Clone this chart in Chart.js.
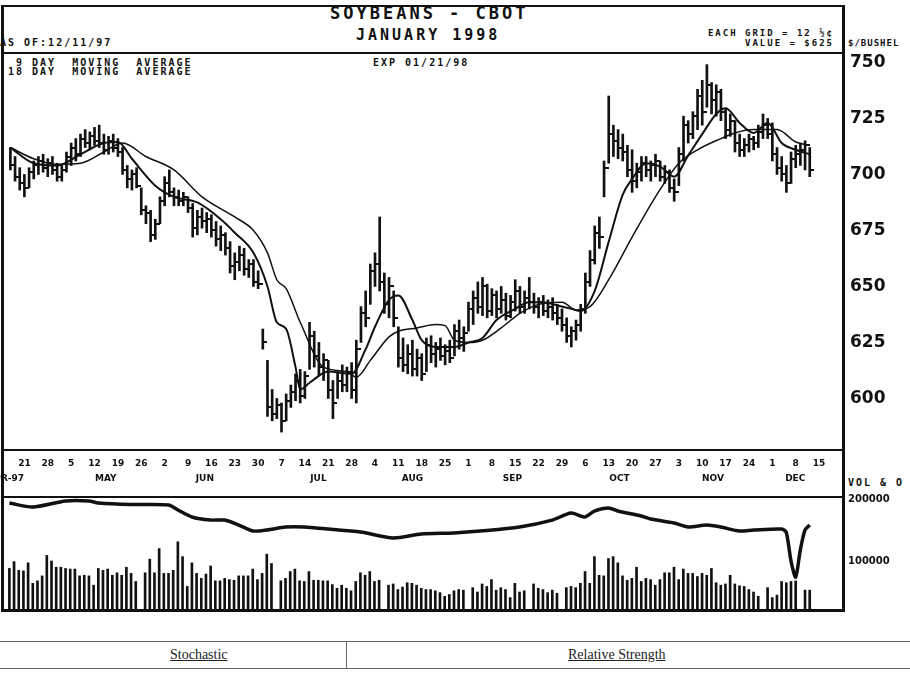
<!DOCTYPE html>
<html>
<head>
<meta charset="utf-8">
<title>Soybeans - CBOT January 1998</title>
<script src="https://cdn.jsdelivr.net/npm/chart.js@4.4.1/dist/chart.umd.min.js"></script>
<style>
  body { margin: 0; background: #fff; width: 910px; height: 674px; overflow: hidden; position: relative; }
  canvas { position: absolute; left: 0; }
  .t { position: absolute; font-family: "DejaVu Sans Mono", monospace; font-weight: bold; white-space: pre; line-height: 1; color: #111; }
  .ln { position: absolute; background: #111; }
  .tl { position: absolute; background: #666; }
  .cell { position: absolute; font-family: "Liberation Serif", serif; font-size: 14px; text-decoration: underline; color: #222; }
</style>
</head>
<body>

<!-- frame -->
<div class="ln" style="left:2px;top:5px;width:843px;height:2px"></div>
<div class="ln" style="left:1px;top:5px;width:3px;height:607px"></div>
<div class="ln" style="left:842px;top:5px;width:3px;height:607px"></div>
<div class="ln" style="left:2px;top:52px;width:843px;height:2px"></div>
<div class="ln" style="left:2px;top:449px;width:843px;height:2px"></div>
<div class="ln" style="left:2px;top:496px;width:843px;height:2px"></div>
<div class="ln" style="left:2px;top:609px;width:843px;height:3px"></div>

<!-- header texts -->
<div class="t" style="left:330px;top:5px;font-size:17px;letter-spacing:3px">SOYBEANS - CBOT</div>
<div class="t" style="left:356px;top:28px;font-size:15px;letter-spacing:3px">JANUARY 1998</div>
<div class="t" style="left:0px;top:38px;font-size:10px;letter-spacing:2px">AS OF:12/11/97</div>
<div class="t" style="right:76px;top:29px;font-size:9px;letter-spacing:2px">EACH GRID = 12 ½¢</div>
<div class="t" style="right:76px;top:39px;font-size:9px;letter-spacing:2px">VALUE = $625</div>
<div class="t" style="left:848px;top:39px;font-size:9px;letter-spacing:1px">$/BUSHEL</div>
<div class="t" style="left:0px;top:58px;font-size:10px;letter-spacing:2px">  9 DAY  MOVING  AVERAGE</div>
<div class="t" style="left:0px;top:67px;font-size:10px;letter-spacing:2px"> 18 DAY  MOVING  AVERAGE</div>
<div class="t" style="left:373px;top:58px;font-size:10px;letter-spacing:2px">EXP 01/21/98</div>
<div class="t" style="left:848px;top:478px;font-size:10px;letter-spacing:2px">VOL &amp; O</div>

<canvas id="price" width="910" height="497" style="top:0"></canvas>
<canvas id="vol" width="910" height="125" style="top:490px"></canvas>

<!-- indicator table -->
<div class="tl" style="left:0;top:641px;width:910px;height:1px"></div>
<div class="tl" style="left:0;top:668px;width:910px;height:1px"></div>
<div class="tl" style="left:346px;top:641px;width:1px;height:27px"></div>
<div class="cell" style="left:170px;top:647px">Stochastic</div>
<div class="cell" style="left:568px;top:647px">Relative Strength</div>

<script>
// day index counted in weekdays from Mon 14 Apr 1997; first bar is Wed 16 Apr
const firstIdx = 2;

const highs = [
  712,708,703,700,703,706,708,709,707,708,
  705,704,710,714,716,718,720,719,721,722,
  718,717,718,716,712,704,702,703,694,686,
  684,680,690,699,702,694,693,692,690,687,
  684,685,683,682,679,677,674,670,665,668,
  667,662,662,657,631,617,604,600,598,602,
  606,611,613,612,634,630,625,620,617,608,
  612,615,614,616,626,641,648,660,665,681,
  656,654,648,632,627,624,626,622,620,627,
  628,625,627,624,626,633,635,632,643,648,
  652,654,651,649,648,650,647,646,653,650,
  648,654,647,645,646,644,645,642,640,636,
  632,635,642,656,666,677,681,706,735,722,
  720,718,713,711,705,708,708,706,709,706,
  704,702,698,712,726,724,728,738,742,749,
  741,740,738,729,727,724,718,716,718,717,
  722,727,725,723,712,708,704,710,713,714,
  715,712
];
const lows = [
  702,697,693,690,694,698,700,701,699,700,
  697,697,701,704,706,708,712,711,713,712,
  709,709,710,708,700,694,693,694,682,678,
  670,671,678,686,690,686,686,686,683,672,
  673,676,674,672,668,666,664,656,653,657,
  655,654,650,649,622,592,590,591,585,590,
  596,599,598,600,613,614,610,608,600,591,
  600,603,603,600,598,625,632,642,650,648,
  638,636,632,614,612,611,610,610,608,612,
  616,614,617,615,616,619,622,621,630,633,
  638,637,636,637,636,638,635,636,639,638,
  638,640,638,636,637,636,635,633,630,625,
  623,626,630,638,650,660,667,690,705,708,
  707,706,699,692,694,697,699,697,699,697,
  696,692,688,695,706,714,716,720,722,730,
  727,726,724,716,717,710,708,708,710,711,
  712,716,716,706,700,697,692,696,703,704,
  702,699
];
const closes = [
  704,699,696,694,701,704,706,703,705,702,
  699,702,708,712,709,716,714,717,715,714,
  711,715,712,710,702,698,700,695,684,683,
  673,678,688,696,692,690,688,690,685,676,
  681,679,680,675,671,673,667,659,661,664,
  658,660,652,651,625,596,593,597,590,599,
  603,608,601,610,628,619,614,617,604,598,
  608,606,612,604,622,638,636,657,660,652,
  642,650,636,618,615,620,613,618,611,624,
  620,622,619,621,618,630,627,629,640,645,
  641,650,639,646,640,644,637,643,648,641,
  645,643,641,643,639,641,638,636,633,628,
  630,633,640,652,662,674,672,703,718,715,
  712,710,702,697,701,705,702,704,706,699,
  701,694,692,709,722,718,726,735,728,740,
  733,737,728,720,724,714,711,713,716,714,
  719,722,718,709,703,700,696,707,709,711,
  713,702
];

// volume, thousands of contracts (null = no bar printed)
const volumes = [
  88,99,85,84,97,64,68,76,109,100,
  90,90,88,87,87,76,77,76,61,88,
  85,87,77,81,77,90,80,67,null,81,
  103,81,120,80,80,85,131,107,59,97,
  80,72,79,92,68,68,72,70,69,76,
  76,76,87,70,80,111,96,null,68,72,
  83,87,68,67,83,69,69,68,68,62,
  56,61,56,52,67,81,77,83,67,69,
  null,61,63,54,58,65,64,61,56,54,
  54,52,49,43,46,52,54,53,null,57,
  50,63,59,70,53,57,54,41,64,50,
  52,null,63,56,54,49,53,48,null,57,
  59,57,64,83,64,107,77,76,104,107,
  97,76,69,72,90,67,72,70,61,70,
  81,81,90,70,87,80,80,75,80,77,
  88,65,61,63,77,63,60,59,54,50,
  43,null,57,41,45,67,65,67,68,null,
  53,53
];

// open interest, thousands of contracts
const oiIdx = [2,7,14,19,21,28,36,38,41,45,48,51,54,57,61,65,70,77,84,90,97,104,111,118,122,125,127,130,132,137,139,144,147,151,154,158,161,167,168,169,170,171,172,173];
const oiVal = [193.5,187,196.8,196.8,193.5,191,190.3,182.3,171,166,166,158,148.4,150,154.8,154.8,151.6,146.8,137.1,143.5,145.2,149,154.8,166,177.4,171,180.6,185.5,180.6,172.6,167.7,161.3,154.8,158,154.8,148.4,150,151.6,146,100,74,118,150,158];

// moving averages
const ma9Idx = [2,7,12,17,22,25,28,33,37,42,47,50,54,57,59,61,63,64,66,70,75,78,80,83,85,88,90,93,97,100,103,106,110,113,116,119,122,124,127,130,133,135,138,141,144,147,150,153,155,158,161,164,167,170,173];
const ma9Val = [712,705,704,709,714,714.5,707,695,690,687.5,680,674,665,650,634,631,614,604,607,612,611,622,632,644,646,635,626,623,623,625,627,635,640,643,643,641.5,640,639,648,670,691,698,705,703.5,699,708.5,718,727,729.5,723,718.5,723,714,711,709];
const ma18Idx = [2,7,12,17,22,26,31,37,43,50,54,57,59,61,64,69,74,76,79,83,85,89,93,95,97,100,103,107,111,115,120,123,126,130,135,140,145,149,154,157,161,166,170,173];
const ma18Val = [712,707,704.5,705,710,714,708,702,690,681,675,665,653,649,634,614,612,609.5,617,627.5,630,631.5,633,632.5,626,625,626,631.5,638,642,643,639.5,641,653,672,690,705,711,716,718.5,720,720,714.5,713];

const dayLabels = ['21','28','5','12','19','26','2','9','16','23','30','7','14','21','28','4','11','18','25','1','8','15','22','29','6','13','20','27','3','10','17','24','1','8','15'];
const dayTickIdx = dayLabels.map((d, i) => 5 + 5 * i); // Mondays
const monthLabels = ['APR-97','MAY','JUN','JUL','AUG','SEP','OCT','NOV','DEC'];
const monthIdx = [1, 22.4, 43.6, 67.9, 88, 109.4, 132.3, 152.3, 169.9];
const priceTicks = [600, 625, 650, 675, 700, 725, 750];
const volTicks = [100, 200];
const volTickLabels = ['100000', '200000'];

const xMin = 0.85, xMax = 179.9;
const ink = '#111';

Chart.defaults.font.family = 'DejaVu Sans';
Chart.defaults.color = ink;

const bars = highs.map((h, i) => ({ x: firstIdx + i, y: [lows[i], h] }));
const closePts = closes.map((c, i) => ({ x: firstIdx + i, y: c }));
const volPts = volumes.map((v, i) => ({ x: firstIdx + i, y: v })).filter(p => p.y !== null);
const oiPts = oiIdx.map((x, i) => ({ x: x, y: oiVal[i] }));
const ma9Pts = ma9Idx.map((x, i) => ({ x: x, y: ma9Val[i] }));
const ma18Pts = ma18Idx.map((x, i) => ({ x: x, y: ma18Val[i] }));

// close tick drawn to the right of each bar
const tick = document.createElement('canvas');
tick.width = 9; tick.height = 2;
const tc = tick.getContext('2d');
tc.fillStyle = ink;
tc.fillRect(5, 0, 4, 2);

const noGrid = { display: false, drawTicks: false };

// keep edge labels from shrinking the plot area
function noEdgePad(s) {
  s.paddingLeft = 0; s.paddingRight = 0; s.paddingTop = 0; s.paddingBottom = 0;
}

new Chart(document.getElementById('price'), {
  type: 'bar',
  data: {
    datasets: [
      { type: 'line', data: ma9Pts, borderColor: ink, borderWidth: 2, pointRadius: 0, cubicInterpolationMode: 'monotone' },
      { type: 'line', data: ma18Pts, borderColor: ink, borderWidth: 1.5, pointRadius: 0, cubicInterpolationMode: 'monotone' },
      { type: 'scatter', data: closePts, pointStyle: tick, pointRadius: 3 },
      { type: 'bar', data: bars, backgroundColor: ink, barThickness: 2 }
    ]
  },
  options: {
    responsive: false,
    animation: false,
    layout: { padding: { top: 53, left: 4, right: 0, bottom: 0 } },
    plugins: { legend: { display: false }, tooltip: { enabled: false } },
    scales: {
      x: {
        type: 'linear', min: xMin, max: xMax, offset: false, position: 'bottom', weight: 0,
        grid: noGrid, border: { display: false },
        afterBuildTicks: s => { s.ticks = dayTickIdx.map(v => ({ value: v })); },
        afterFit: s => { s.height = 21; noEdgePad(s); },
        ticks: { autoSkip: false, maxRotation: 0, minRotation: 0, padding: 8, color: ink,
                 font: { size: 9, weight: 'bold' }, callback: (v, i) => dayLabels[i] }
      },
      xm: {
        type: 'linear', min: xMin, max: xMax, offset: false, position: 'bottom', weight: 1,
        grid: noGrid, border: { display: false },
        afterBuildTicks: s => { s.ticks = monthIdx.map(v => ({ value: v })); },
        afterFit: s => { s.height = 26; noEdgePad(s); },
        ticks: { autoSkip: false, maxRotation: 0, minRotation: 0, padding: 2, color: ink,
                 font: { size: 9, weight: 'bold' }, callback: (v, i) => monthLabels[i] }
      },
      y: {
        position: 'right', min: 577, max: 754.2,
        grid: noGrid, border: { display: false },
        afterBuildTicks: s => { s.ticks = priceTicks.map(v => ({ value: v })); },
        afterFit: s => { s.width = 68; noEdgePad(s); },
        ticks: { padding: 8, color: ink, font: { size: 17, weight: 'bold' } }
      }
    }
  }
});

new Chart(document.getElementById('vol'), {
  type: 'bar',
  data: {
    datasets: [
      { type: 'line', data: oiPts, borderColor: ink, borderWidth: 3.5, pointRadius: 0, tension: 0.25 },
      { type: 'bar', data: volPts, backgroundColor: ink, barThickness: 2 }
    ]
  },
  options: {
    responsive: false,
    animation: false,
    layout: { padding: { top: 6, left: 4, right: 0, bottom: 5 } },
    plugins: { legend: { display: false }, tooltip: { enabled: false } },
    scales: {
      x: { type: 'linear', min: xMin, max: xMax, offset: false, display: false },
      y: {
        position: 'right', min: 21, max: 204.8,
        grid: noGrid, border: { display: false },
        afterBuildTicks: s => { s.ticks = volTicks.map(v => ({ value: v })); },
        afterFit: s => { s.width = 68; noEdgePad(s); },
        ticks: { padding: 6, color: ink, font: { size: 10, weight: 'bold' },
                 callback: (v, i) => volTickLabels[i] }
      }
    }
  }
});
</script>
</body>
</html>
